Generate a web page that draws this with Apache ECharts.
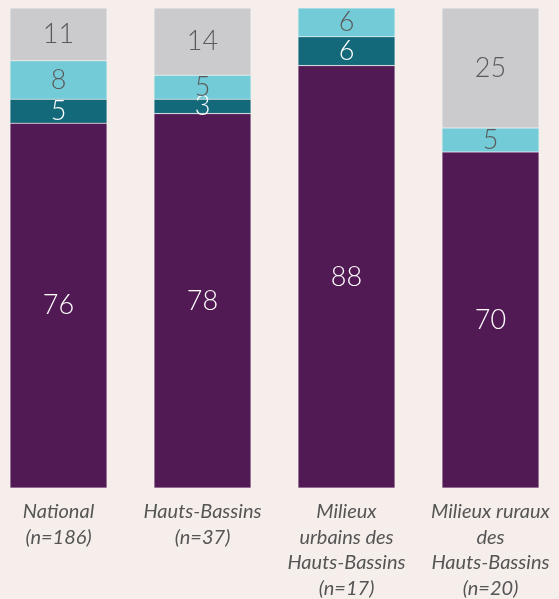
<!DOCTYPE html>
<html><head><meta charset="utf-8">
<script src="https://cdn.jsdelivr.net/npm/echarts@6/dist/echarts.min.js"></script>
<style>html,body{margin:0;padding:0;background:#f6eeeb;}#c{width:559px;height:599px;}</style>
</head><body><div id="c"></div>
<script>
const categories = ['National\n(n=186)', 'Hauts-Bassins\n(n=37)', 'Milieux\nurbains des\nHauts-Bassins\n(n=17)', 'Milieux ruraux\ndes\nHauts-Bassins\n(n=20)'];
const purpleValues = [76, 78, 88, 70];
const tealValues = [5, 3, 6, null];
const cyanValues = [8, 5, 6, 5];
const grayValues = [11, 14, null, 25];

const seriesDefs = [
  {name: 'purple', data: purpleValues, color: '#521a55', text: '#ffffff'},
  {name: 'teal', data: tealValues, color: '#13687a', text: '#ffffff'},
  {name: 'cyan', data: cyanValues, color: '#74cbd8', text: '#5a5a5a'},
  {name: 'gray', data: grayValues, color: '#cbcbcd', text: '#5a5a5a'}
];

const chart = echarts.init(document.getElementById('c'));
chart.setOption({
  backgroundColor: '#f6eeeb',
  animation: false,
  grid: {left: -13.5, width: 576, top: 8, bottom: 111, containLabel: false, outerBoundsMode: 'none'},
  xAxis: {
    type: 'category', data: categories,
    axisLine: {show: false}, axisTick: {show: false},
    axisLabel: {
      interval: 0, margin: 11, color: '#555555',
      fontFamily: 'Lato', fontStyle: 'italic', fontSize: 20, lineHeight: 25.5
    }
  },
  yAxis: {type: 'value', min: 0, max: 100, show: false, splitLine: {show: false}},
  series: seriesDefs.map(s => ({
    name: s.name, type: 'bar', stack: 'total', data: s.data, barWidth: 97,
    itemStyle: {color: s.color, borderColor: 'rgba(255,255,255,0.35)', borderWidth: 0.6},
    label: {
      show: true, position: 'inside', color: s.text,
      fontFamily: 'Lato', fontWeight: 300, fontSize: 27
    }
  }))
});
</script></body></html>
